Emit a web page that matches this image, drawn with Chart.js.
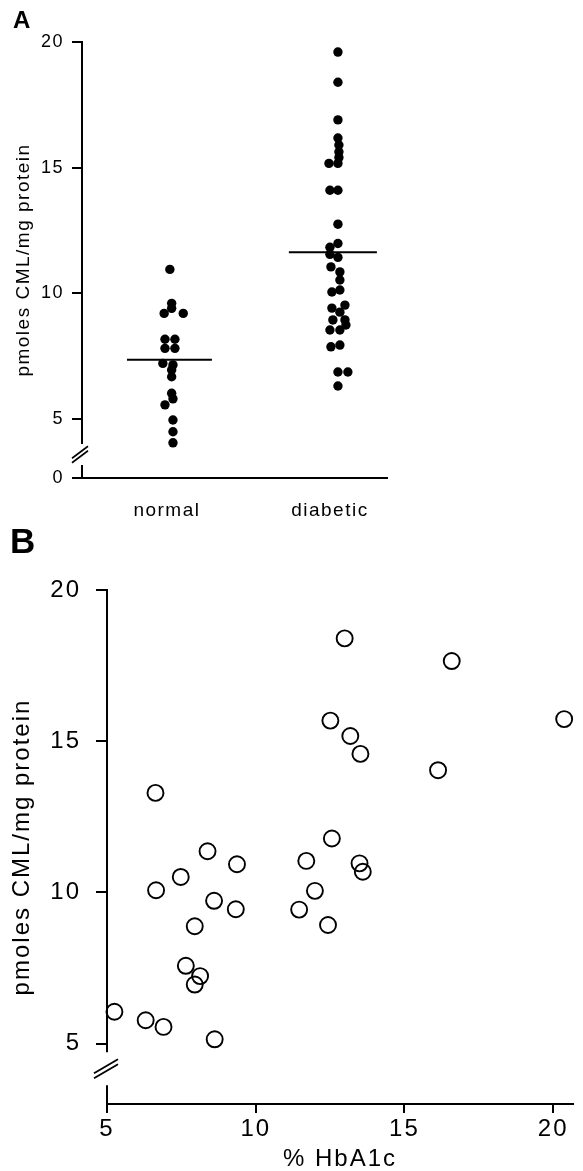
<!DOCTYPE html>
<html><head><meta charset="utf-8">
<script src="https://cdn.jsdelivr.net/npm/chart.js@4.4.1/dist/chart.umd.min.js"></script>
<style>
html,body{margin:0;padding:0;background:#fff;overflow:hidden}
#wa{position:absolute;left:0;top:0;width:583px;height:520px}
#wb{position:absolute;left:0;top:520px;width:583px;height:651px}
</style></head><body>
<div id="wa"><canvas id="ca"></canvas></div>
<div id="wb"><canvas id="cb"></canvas></div>
<script>
// ---------- Panel A data ----------
const groupsA = ['normal', 'diabetic'];
const groupPosA = [1, 2];
const normalX = [1.018,1.029,1.029,0.983,1.100,0.988,1.049,0.988,1.049,0.975,1.037,1.029,1.029,1.029,1.037,0.988,1.037,1.037,1.037];
const normalY = [10.95,9.60,9.40,9.20,9.20,8.17,8.17,7.81,7.81,7.21,7.15,6.95,6.68,6.02,5.80,5.56,4.96,4.49,4.05];
const diabeticX = [2.049,2.049,2.049,2.049,2.055,2.055,2.055,1.994,2.049,2.000,2.049,2.049,
                   2.049,2.000,2.000,2.049,2.006,2.061,2.061,2.012,2.061,2.092,2.012,2.061,2.092,2.018,2.098,2.000,2.061,2.006,2.061,2.049,2.110,2.049];
const diabeticY = [19.6,18.4,16.9,16.18,15.9,15.63,15.4,15.17,15.17,14.1,14.1,12.75,
                   11.98,11.83,11.55,11.43,11.05,10.85,10.53,10.05,10.13,9.53,9.41,9.25,8.94,8.94,8.74,8.54,8.54,7.87,7.94,6.87,6.87,6.31];
const meanA = [7.36, 11.63];
const meanSpanA = [[0.755, 1.276], [1.748, 2.288]];
const yTicksA = [2.65, 5, 10, 15, 20];
const yTickLabelsA = ['0', '5', '10', '15', '20'];
const yTitle = 'pmoles CML/mg protein';

// ---------- Panel B data ----------
const hba1cB = [6.63,8.38,9.37,7.48,6.65,8.60,9.33,7.95,7.65,8.13,7.95,5.25,6.30,6.90,8.62,
                12.99,16.59,20.37,12.51,13.18,13.52,16.13,12.56,11.70,13.49,13.60,11.99,11.46,12.43];
const cmlB   = [13.29,11.36,10.93,10.51,10.07,9.72,9.44,8.88,7.57,7.23,6.95,6.05,5.77,5.55,5.14,
                18.40,17.65,15.73,15.68,15.17,14.58,14.04,11.78,11.04,10.96,10.68,10.05,9.43,8.92];
const xTicksB = [5, 10, 15, 20];
const yTicksB = [5, 10, 15, 20];
const xTitleB = '% HbA1c';

const FONT = '"Liberation Sans", Arial, Helvetica, sans-serif';
Chart.defaults.font.family = FONT;
Chart.defaults.color = '#000';

const spacingPlugin = {
  id: 'spacing',
  beforeDraw(chart, args, opts) { chart.ctx.letterSpacing = opts.value || '0px'; },
  afterDraw(chart) { chart.ctx.letterSpacing = '0px'; }
};

const brokenAxis = {
  id: 'brokenAxis',
  afterDraw(chart, args, o) {
    const ys = chart.scales.y, ctx = chart.ctx, x = chart.chartArea.left;
    const top = ys.getPixelForValue(ys.max), bot = ys.getPixelForValue(ys.min);
    const b1 = ys.getPixelForValue(o.breakTop), b2 = ys.getPixelForValue(o.breakBottom);
    ctx.save();
    ctx.strokeStyle = '#000'; ctx.lineWidth = o.width; ctx.lineCap = 'butt';
    ctx.beginPath();
    ctx.moveTo(x, top - 1); ctx.lineTo(x, b1);
    ctx.moveTo(x, b2); ctx.lineTo(x, bot + o.extend);
    ctx.stroke();
    ctx.lineWidth = o.slashWidth;
    const mid = (b1 + b2) / 2, cx = x + o.dx;
    ctx.beginPath();
    for (const d of [-o.gap / 2, o.gap / 2]) {
      ctx.moveTo(cx - o.w, mid + o.h + d);
      ctx.lineTo(cx + o.w, mid - o.h + d);
    }
    ctx.stroke();
    ctx.restore();
  }
};

// ---------- Chart A ----------
const ptsNormal = normalX.map((x, i) => ({x, y: normalY[i]}));
const ptsDiab = diabeticX.map((x, i) => ({x, y: diabeticY[i]}));
const meanDatasets = meanA.map((m, i) => ({
  type: 'line', data: [{x: meanSpanA[i][0], y: m}, {x: meanSpanA[i][1], y: m}],
  borderColor: '#000', borderWidth: 2, pointRadius: 0, showLine: true, fill: false
}));

new Chart(document.getElementById('ca'), {
  type: 'scatter',
  data: {
    datasets: [
      {data: ptsNormal, backgroundColor: '#000', borderWidth: 0, pointRadius: 4.7},
      {data: ptsDiab, backgroundColor: '#000', borderWidth: 0, pointRadius: 4.7},
      ...meanDatasets
    ]
  },
  options: {
    responsive: true, maintainAspectRatio: false, animation: false, devicePixelRatio: 1,
    layout: {padding: {left: 13, right: 196, top: 0, bottom: 0}},
    plugins: {
      legend: {display: false}, tooltip: {enabled: false},
      title: {display: true, text: 'A', align: 'start', font: {size: 24, weight: 'bold', lineHeight: 1}, padding: {top: 9, bottom: 9}},
      spacing: {value: '1.5px'},
      brokenAxis: {breakTop: 4.0, breakBottom: 3.17, width: 2, extend: 0, slashWidth: 1.6, dx: -2, w: 8, h: 6, gap: 4.5}
    },
    scales: {
      x: {
        type: 'linear', min: 0.479, max: 2.35,
        afterBuildTicks: s => { s.ticks = groupPosA.map(v => ({value: v})); },
        afterFit: s => { s.height = 42; },
        ticks: {padding: 15, font: {size: 19, lineHeight: 1}, callback: v => groupsA[groupPosA.indexOf(v)] ?? ''},
        grid: {display: false},
        border: {display: true, color: '#000', width: 2}
      },
      y: {
        type: 'linear', min: 2.65, max: 20,
        afterBuildTicks: s => { s.ticks = yTicksA.map(v => ({value: v})); },
        afterFit: s => { s.width = 69; },
        ticks: {padding: 8, font: {size: 18, lineHeight: 1}, callback: v => yTickLabelsA[yTicksA.indexOf(v)] ?? ''},
        grid: {drawOnChartArea: false, drawTicks: true, tickLength: 10, color: '#000', lineWidth: 2},
        border: {display: false},
        title: {display: true, text: yTitle, font: {size: 19, lineHeight: 1}, padding: {top: 1, bottom: 0}}
      }
    }
  },
  plugins: [spacingPlugin, brokenAxis]
});

// ---------- Chart B ----------
const ptsB = hba1cB.map((x, i) => ({x, y: cmlB[i]}));
new Chart(document.getElementById('cb'), {
  type: 'scatter',
  data: {datasets: [{data: ptsB, backgroundColor: 'rgba(0,0,0,0)', borderColor: '#000', borderWidth: 1.9, pointRadius: 8, clip: false}]},
  options: {
    responsive: true, maintainAspectRatio: false, animation: false, devicePixelRatio: 1,
    layout: {padding: {left: 10, right: 0, top: 0, bottom: 0}},
    plugins: {
      legend: {display: false}, tooltip: {enabled: false},
      title: {display: true, text: 'B', align: 'start', font: {size: 35, weight: 'bold', lineHeight: 1}, padding: {top: 6, bottom: 29}},
      spacing: {value: '2px'},
      brokenAxis: {breakTop: 4.71, breakBottom: 3.62, width: 2, extend: 3, slashWidth: 1.8, dx: -1, w: 12, h: 7, gap: 5}
    },
    scales: {
      x: {
        type: 'linear', min: 5, max: 20.67,
        afterBuildTicks: s => { s.ticks = xTicksB.map(v => ({value: v})); },
        afterFit: s => { s.height = 67; },
        ticks: {padding: 4, font: {size: 24, lineHeight: 1}},
        grid: {drawOnChartArea: false, drawTicks: true, tickLength: 9, color: '#000', lineWidth: 2},
        border: {display: true, color: '#000', width: 2},
        title: {display: true, text: xTitleB, font: {size: 24, lineHeight: 1}, padding: {top: 0, bottom: 0}}
      },
      y: {
        type: 'linear', min: 3, max: 20,
        afterBuildTicks: s => { s.ticks = yTicksB.map(v => ({value: v})); },
        afterFit: s => { s.width = 97; },
        ticks: {padding: 15, font: {size: 24, lineHeight: 1}},
        grid: {drawOnChartArea: false, drawTicks: true, tickLength: 11, color: '#000', lineWidth: 2},
        border: {display: false},
        title: {display: true, text: yTitle, font: {size: 24, lineHeight: 1}, padding: {top: 0, bottom: 0}}
      }
    }
  },
  plugins: [spacingPlugin, brokenAxis]
});
</script>
</body></html>
